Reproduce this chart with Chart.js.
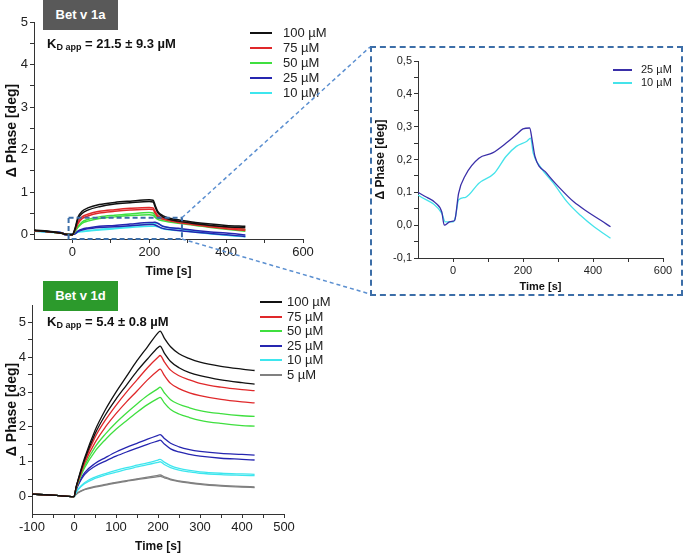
<!DOCTYPE html>
<html>
<head>
<meta charset="utf-8">
<script src="https://cdn.jsdelivr.net/npm/chart.js@4.4.1/dist/chart.umd.min.js"></script>
<style>
  body { margin: 0; background: #fff; font-family: "Liberation Sans", Arial, sans-serif; }
  #wrap { position: relative; width: 685px; height: 556px; overflow: hidden; }
  #wrap canvas { position: absolute; }
  .tag { position: absolute; width: 75px; height: 30px; line-height: 30px; color: #fff; font-weight: bold; font-size: 13px; text-align: center; }
  .kd { position: absolute; font-weight: bold; font-size: 13px; color: #111; white-space: nowrap; }
  .kd sub { font-size: 9px; vertical-align: -2px; }
  .legend { position: absolute; color: #222; white-space: nowrap; }
  .legend div { position: relative; }
  .legend span { position: absolute; left: 0; height: 2px; margin-top: -1px; }
  #insetBox { position: absolute; left: 370px; top: 46px; width: 309px; height: 246px; border: 2px dashed #3c6ea8; }
</style>
</head>
<body>
<div id="wrap">
  <canvas id="topChart" width="345" height="285" style="left:0;top:0"></canvas>
  <canvas id="botChart" width="345" height="276" style="left:0;top:280px"></canvas>
  <div id="insetBox"></div>
  <canvas id="insetChart" width="309" height="246" style="left:372px;top:48px"></canvas>

  <div class="tag" style="left:43px;top:0;background:#595959">Bet v 1a</div>
  <div class="kd" style="left:47px;top:36px">K<sub>D app</sub> = 21.5 ± 9.3 µM</div>
  <div class="tag" style="left:43px;top:281px;background:#2c9a2c">Bet v 1d</div>
  <div class="kd" style="left:47px;top:314px">K<sub>D app</sub> = 5.4 ± 0.8 µM</div>

  <div class="legend" id="topLegend" style="left:250px;top:25px"></div>
  <div class="legend" id="botLegend" style="left:260px;top:295px"></div>
  <div class="legend" id="insetLegend" style="left:613px;top:63px"></div>

  <canvas id="overlay" width="685" height="556" style="left:0;top:0;pointer-events:none"></canvas>
</div>

<script>
// ---- Bet v 1a (top) : time [s] and phase [deg], two replicates per concentration
const TOP_T = [-100, -50, -25, -20, 0, 5, 15, 25, 40, 70, 110, 150, 200, 210, 215, 222, 235, 275, 320, 360, 400, 450];
const top100a = [0.11, 0.07, 0.03, 0.01, 0.0, 0.1, 0.42, 0.55, 0.63, 0.71, 0.76, 0.79, 0.82, 0.81, 0.7, 0.55, 0.45, 0.35, 0.29, 0.25, 0.22, 0.2];
const top100b = [0.1, 0.06, 0.03, 0.01, 0.0, 0.08, 0.38, 0.5, 0.58, 0.66, 0.72, 0.75, 0.78, 0.77, 0.66, 0.52, 0.42, 0.32, 0.26, 0.22, 0.19, 0.17];
const top75a = [0.1, 0.06, 0.03, 0.01, 0.0, 0.08, 0.3, 0.42, 0.48, 0.55, 0.59, 0.62, 0.64, 0.63, 0.55, 0.45, 0.4, 0.32, 0.26, 0.21, 0.17, 0.13];
const top75b = [0.1, 0.06, 0.03, 0.01, 0.0, 0.07, 0.27, 0.38, 0.44, 0.51, 0.55, 0.58, 0.6, 0.59, 0.51, 0.42, 0.37, 0.29, 0.23, 0.18, 0.14, 0.1];
const top50a = [0.1, 0.06, 0.03, 0.01, 0.0, 0.06, 0.2, 0.3, 0.36, 0.42, 0.46, 0.49, 0.52, 0.51, 0.45, 0.4, 0.37, 0.31, 0.26, 0.21, 0.18, 0.12];
const top50b = [0.1, 0.06, 0.03, 0.01, 0.0, 0.05, 0.18, 0.27, 0.32, 0.38, 0.42, 0.45, 0.47, 0.46, 0.41, 0.36, 0.33, 0.27, 0.22, 0.17, 0.13, 0.08];
const top25a = [0.1, 0.065, 0.04, 0.0, 0.01, 0.015, 0.09, 0.13, 0.16, 0.2, 0.22, 0.25, 0.29, 0.29, 0.295, 0.27, 0.2, 0.15, 0.1, 0.065, 0.04, -0.005];
const top25b = [0.09, 0.06, 0.035, 0.0, 0.01, 0.015, 0.08, 0.11, 0.14, 0.17, 0.19, 0.21, 0.24, 0.24, 0.23, 0.2, 0.15, 0.1, 0.06, 0.03, 0.0, -0.04];
const top10a = [0.09, 0.06, 0.035, 0.01, 0.01, 0.02, 0.077, 0.08, 0.095, 0.125, 0.155, 0.2, 0.25, 0.255, 0.26, 0.265, 0.2, 0.14, 0.085, 0.035, -0.005, -0.04];
const top10b = [0.08, 0.05, 0.03, 0.01, 0.01, 0.02, 0.06, 0.07, 0.085, 0.11, 0.14, 0.17, 0.2, 0.2, 0.2, 0.19, 0.14, 0.1, 0.06, 0.02, -0.01, -0.05];
const TOP_LABELS = ['100 µM', '75 µM', '50 µM', '25 µM', '10 µM'];
const TOP_X_TICKS = [0, 100, 200, 300, 400, 500, 600];
const TOP_X_LABELS = [0, 200, 400, 600];
const TOP_Y_TICKS = [0, 0.5, 1, 1.5, 2, 2.5, 3, 3.5, 4, 4.5, 5];
const TOP_Y_LABELS = [0, 1, 2, 3, 4, 5];

// ---- zoomed inset of the 25 and 10 µM curves
const INSET_T25 = [-100, -75, -50, -32, -25, -10, 0, 5, 16, 36, 74, 113, 152, 181, 200, 219, 226, 234, 268, 306, 345, 384, 422, 450];
const inset25 = [0.1, 0.085, 0.068, 0.04, 0.0, 0.01, 0.012, 0.015, 0.097, 0.153, 0.204, 0.22, 0.25, 0.276, 0.293, 0.296, 0.26, 0.21, 0.158, 0.112, 0.071, 0.041, 0.015, -0.005];
const INSET_T10 = [-100, -32, -22, 0, 7, 16, 36, 74, 118, 152, 181, 210, 222, 229, 248, 287, 326, 364, 403, 450];
const inset10 = [0.092, 0.036, 0.01, 0.01, 0.025, 0.077, 0.085, 0.128, 0.158, 0.21, 0.24, 0.255, 0.265, 0.22, 0.18, 0.128, 0.071, 0.03, -0.005, -0.04];
const INSET_LABELS = ['25 µM', '10 µM'];
const INSET_X_TICKS = [0, 100, 200, 300, 400, 500, 600];
const INSET_X_LABELS = [0, 200, 400, 600];
const INSET_Y_TICKS = [-0.1, -0.05, 0, 0.05, 0.1, 0.15, 0.2, 0.25, 0.3, 0.35, 0.4, 0.45, 0.5];
const INSET_Y_LABELS = [-0.1, 0, 0.1, 0.2, 0.3, 0.4, 0.5];

// ---- Bet v 1d (bottom)
const BOT_T = [-100, -50, 0, 5, 10, 25, 50, 75, 100, 125, 150, 175, 200, 205, 215, 230, 250, 275, 300, 350, 400, 430];
const bot100a = [0.07, 0.04, 0, 0.28, 0.5, 1.1, 1.9, 2.5, 3.0, 3.45, 3.9, 4.3, 4.7, 4.75, 4.55, 4.3, 4.1, 3.96, 3.86, 3.74, 3.66, 3.62];
const bot100b = [0.07, 0.04, 0, 0.27, 0.48, 1.05, 1.8, 2.35, 2.8, 3.2, 3.6, 3.95, 4.28, 4.32, 4.12, 3.88, 3.7, 3.56, 3.47, 3.35, 3.27, 3.23];
const bot75a = [0.07, 0.04, 0, 0.26, 0.46, 1.0, 1.7, 2.2, 2.62, 3.0, 3.35, 3.7, 4.0, 4.05, 3.87, 3.63, 3.47, 3.35, 3.25, 3.14, 3.07, 3.04];
const bot75b = [0.07, 0.04, 0, 0.25, 0.44, 0.95, 1.55, 2.0, 2.38, 2.72, 3.03, 3.35, 3.62, 3.66, 3.48, 3.25, 3.1, 2.98, 2.9, 2.79, 2.72, 2.69];
const bot50a = [0.07, 0.04, 0, 0.24, 0.42, 0.88, 1.42, 1.8, 2.12, 2.4, 2.66, 2.9, 3.1, 3.14, 2.98, 2.78, 2.65, 2.55, 2.47, 2.38, 2.32, 2.3];
const bot50b = [0.07, 0.04, 0, 0.23, 0.4, 0.82, 1.3, 1.64, 1.93, 2.18, 2.42, 2.64, 2.82, 2.85, 2.69, 2.5, 2.37, 2.27, 2.19, 2.1, 2.04, 2.02];
const bot25a = [0.07, 0.04, 0, 0.2, 0.35, 0.68, 0.95, 1.12, 1.28, 1.41, 1.53, 1.65, 1.76, 1.78, 1.67, 1.53, 1.43, 1.35, 1.3, 1.24, 1.21, 1.19];
const bot25b = [0.07, 0.04, 0, 0.19, 0.33, 0.63, 0.87, 1.02, 1.16, 1.28, 1.39, 1.5, 1.6, 1.62, 1.51, 1.37, 1.28, 1.21, 1.16, 1.1, 1.07, 1.05];
const bot10a = [0.07, 0.04, 0, 0.12, 0.22, 0.4, 0.56, 0.66, 0.75, 0.83, 0.9, 0.97, 1.05, 1.07, 0.99, 0.89, 0.81, 0.75, 0.71, 0.67, 0.65, 0.64];
const bot10b = [0.07, 0.04, 0, 0.11, 0.2, 0.37, 0.52, 0.62, 0.7, 0.78, 0.85, 0.92, 0.98, 1.0, 0.92, 0.83, 0.76, 0.71, 0.67, 0.63, 0.61, 0.6];
const bot5a = [0.07, 0.04, 0, 0.07, 0.12, 0.21, 0.29, 0.35, 0.41, 0.46, 0.51, 0.56, 0.61, 0.62, 0.57, 0.5, 0.45, 0.41, 0.37, 0.32, 0.29, 0.28];
const bot5b = [0.07, 0.04, 0, 0.06, 0.11, 0.2, 0.27, 0.33, 0.39, 0.44, 0.49, 0.53, 0.57, 0.58, 0.54, 0.48, 0.43, 0.39, 0.35, 0.3, 0.27, 0.26];
const BOT_LABELS = ['100 µM', '75 µM', '50 µM', '25 µM', '10 µM', '5 µM'];
const BOT_X_TICKS = [-100, -50, 0, 50, 100, 150, 200, 250, 300, 350, 400, 450, 500];
const BOT_X_LABELS = [-100, 0, 100, 200, 300, 400, 500];
const BOT_Y_TICKS = [0, 0.5, 1, 1.5, 2, 2.5, 3, 3.5, 4, 4.5, 5];
const BOT_Y_LABELS = [0, 1, 2, 3, 4, 5];

// zoom region shown in the inset (data units of the top chart)
const ZOOM_X = [-10, 285];
const ZOOM_Y = [-0.1, 0.4];

const COLORS = ['#111111', '#e0282a', '#3fdf3f', '#2626b0', '#3ee6ee', '#808080'];
const INSET_COLORS = ['#3a2fa8', '#45e3ea'];

function pts(t, v) {
  return t.map((x, i) => ({ x: x, y: v[i] }));
}

function has(list, v) {
  return list.some(a => Math.abs(a - v) < 1e-9);
}

function makeChart(id, datasets, cfg) {
  const tickFont = { family: 'Liberation Sans', size: cfg.tickSize };
  return new Chart(document.getElementById(id), {
    type: 'line',
    data: { datasets: datasets },
    options: {
      responsive: false,
      animation: false,
      devicePixelRatio: 1,
      layout: { padding: { top: cfg.top, right: cfg.right, left: 0, bottom: 0 } },
      elements: { point: { radius: 0 }, line: { cubicInterpolationMode: 'monotone' } },
      plugins: { legend: { display: false }, tooltip: { enabled: false } },
      scales: {
        x: {
          type: 'linear', min: cfg.xMin, max: cfg.xMax,
          afterFit: s => { s.height = cfg.xh; },
          afterBuildTicks: s => { s.ticks = cfg.xTicks.map(v => ({ value: v })); },
          ticks: { autoSkip: false, maxRotation: 0, padding: 2, color: '#222', font: tickFont,
                   callback: v => has(cfg.xLabels, v) ? String(v) : '' },
          grid: { drawOnChartArea: false, tickLength: 4, color: '#333' },
          border: { color: '#333', width: 1 },
          title: { display: true, text: 'Time [s]', color: '#111',
                   font: { family: 'Liberation Sans', size: cfg.xTitleSize, weight: 'bold' },
                   padding: { top: 0, bottom: cfg.xTitlePad } }
        },
        y: {
          type: 'linear', min: cfg.yMin, max: cfg.yMax,
          afterFit: s => { s.width = cfg.yw; },
          afterBuildTicks: s => { s.ticks = cfg.yTicks.map(v => ({ value: v })); },
          ticks: { autoSkip: false, padding: 2, color: '#222', font: tickFont,
                   callback: v => has(cfg.yLabels, v) ? cfg.yFmt(v) : '' },
          grid: { drawOnChartArea: false, tickLength: 4, color: '#333' },
          border: { color: '#333', width: 1 },
          title: { display: true, text: 'Δ Phase [deg]', color: '#111',
                   font: { family: 'Liberation Sans', size: cfg.yTitleSize, weight: 'bold' },
                   padding: { top: cfg.yTitlePad, bottom: 0 } }
        }
      }
    },
    plugins: cfg.plugins || []
  });
}

function pairSets(t, pairs, labels, width) {
  const out = [];
  pairs.forEach((p, i) => {
    p.forEach(v => out.push({ label: labels[i], data: pts(t, v), borderColor: COLORS[i], borderWidth: width }));
  });
  return out;
}

function legend(id, labels, colors, fontSize, rowH, lineW, textX) {
  const el = document.getElementById(id);
  el.style.fontSize = fontSize + 'px';
  labels.forEach((lab, i) => {
    const row = document.createElement('div');
    row.style.height = rowH + 'px';
    row.style.lineHeight = rowH + 'px';
    row.style.paddingLeft = textX + 'px';
    row.innerHTML = '<span style="width:' + lineW + 'px;top:' + Math.round(rowH / 2) + 'px;background:' + colors[i] + '"></span>' + lab;
    el.appendChild(row);
  });
}

const zoomBox = {
  id: 'zoomBox',
  afterDatasetsDraw(chart) {
    const { ctx, scales: { x, y } } = chart;
    ctx.save();
    ctx.strokeStyle = '#3c6ea8';
    ctx.lineWidth = 2;
    ctx.setLineDash([5, 3]);
    const x0 = x.getPixelForValue(ZOOM_X[0]), x1 = x.getPixelForValue(ZOOM_X[1]);
    const y0 = y.getPixelForValue(ZOOM_Y[1]), y1 = y.getPixelForValue(ZOOM_Y[0]);
    ctx.strokeRect(x0, y0, x1 - x0, y1 - y0);
    ctx.restore();
  }
};

const topChart = makeChart('topChart',
  pairSets(TOP_T, [[top100a, top100b], [top75a, top75b], [top50a, top50b], [top25a, top25b], [top10a, top10b]], TOP_LABELS, 1.5),
  { top: 22, right: 42, xh: 46, yw: 34, xMin: -100, xMax: 600, yMin: -0.1, yMax: 5,
    xTicks: TOP_X_TICKS, xLabels: TOP_X_LABELS, yTicks: TOP_Y_TICKS, yLabels: TOP_Y_LABELS,
    tickSize: 13, xTitleSize: 12, yTitleSize: 14, xTitlePad: 6, yTitlePad: 4,
    yFmt: v => String(v), plugins: [zoomBox] });

makeChart('insetChart', [
    { label: INSET_LABELS[0], data: pts(INSET_T25, inset25), borderColor: INSET_COLORS[0], borderWidth: 1.3 },
    { label: INSET_LABELS[1], data: pts(INSET_T10, inset10), borderColor: INSET_COLORS[1], borderWidth: 1.3 }
  ],
  { top: 13, right: 18, xh: 36, yw: 46, xMin: -100, xMax: 600, yMin: -0.1, yMax: 0.5,
    xTicks: INSET_X_TICKS, xLabels: INSET_X_LABELS, yTicks: INSET_Y_TICKS, yLabels: INSET_Y_LABELS,
    tickSize: 11, xTitleSize: 11, yTitleSize: 12, xTitlePad: 0, yTitlePad: 1,
    yFmt: v => v.toFixed(1).replace('.', ',') });

makeChart('botChart',
  pairSets(BOT_T, [[bot100a, bot100b], [bot75a, bot75b], [bot50a, bot50b], [bot25a, bot25b], [bot10a, bot10b], [bot5a, bot5b]], BOT_LABELS, 1.3),
  { top: 25, right: 61, xh: 42, yw: 32, xMin: -100, xMax: 500, yMin: -0.5, yMax: 5.5,
    xTicks: BOT_X_TICKS, xLabels: BOT_X_LABELS, yTicks: BOT_Y_TICKS, yLabels: BOT_Y_LABELS,
    tickSize: 13, xTitleSize: 12, yTitleSize: 14, xTitlePad: 2, yTitlePad: 4,
    yFmt: v => String(v) });

legend('topLegend', TOP_LABELS, COLORS, 13, 15, 22, 33);
legend('botLegend', BOT_LABELS, COLORS, 13, 14.5, 22, 27);
legend('insetLegend', INSET_LABELS, INSET_COLORS, 11, 13, 19, 28);

// dashed connectors from the zoom box to the inset frame
(function () {
  const ctx = document.getElementById('overlay').getContext('2d');
  const x = topChart.scales.x, y = topChart.scales.y;
  const bx = x.getPixelForValue(ZOOM_X[1]);
  ctx.strokeStyle = '#5b8fd0';
  ctx.lineWidth = 1.5;
  ctx.setLineDash([4, 3]);
  ctx.beginPath();
  ctx.moveTo(bx, y.getPixelForValue(ZOOM_Y[1]));
  ctx.lineTo(370, 47);
  ctx.moveTo(bx, y.getPixelForValue(ZOOM_Y[0]));
  ctx.lineTo(370, 294);
  ctx.stroke();
})();
</script>
</body>
</html>
